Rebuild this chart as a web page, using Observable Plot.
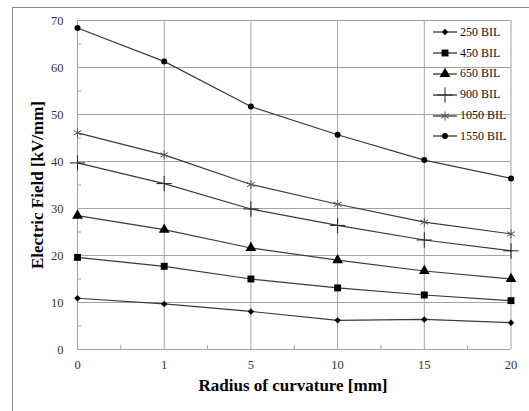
<!DOCTYPE html>
<html>
<head>
<meta charset="utf-8">
<script src="https://cdn.jsdelivr.net/npm/d3@7"></script>
<script src="https://cdn.jsdelivr.net/npm/@observablehq/plot@0.6"></script>
<style>
  html, body { margin: 0; padding: 0; background: #fff; }
  #wrap { position: relative; width: 529px; height: 411px; overflow: hidden; font-family: "Liberation Serif", Tinos, "Times New Roman", "DejaVu Serif", serif; }
  #frame { position: absolute; left: 12px; top: 7px; right: -2px; bottom: -2px; border-left: 1px solid #8c8c8c; border-top: 1px solid #8c8c8c; }
  #chart { position: absolute; left: 0; top: 0; }
  #chart svg text { font-family: "Liberation Serif", Tinos, "Times New Roman", "DejaVu Serif", serif; }
  #legend { position: absolute; left: 432px; top: 22px; }
  .row { display: flex; align-items: center; height: 20.8px; font-size: 12px; color: #111; }
  .row svg { display: block; margin-right: 2px; }
  .ylab { position: absolute; left: 38px; top: 185px; transform: translate(-50%, -50%) rotate(-90deg); white-space: nowrap; font-weight: bold; font-size: 17px; color: #000; }
  .xlab { position: absolute; left: 293px; top: 386px; transform: translate(-50%, -50%); white-space: nowrap; font-weight: bold; font-size: 17px; color: #000; }
</style>
</head>
<body>
<div id="wrap">
  <div id="frame"></div>
  <div id="chart"></div>
  <div id="legend"></div>
  <div class="ylab">Electric Field [kV/mm]</div>
  <div class="xlab">Radius of curvature [mm]</div>
</div>
<script>
// Categories (radius of curvature, mm) — plotted evenly spaced
const xLabels = ["0", "1", "5", "10", "15", "20"];
// Series values (kV/mm)
const s250  = [10.9, 9.7, 8.1, 6.2, 6.4, 5.7];
const s450  = [19.6, 17.7, 15.0, 13.1, 11.6, 10.4];
const s650  = [28.5, 25.5, 21.6, 19.0, 16.7, 15.0];
const s900  = [39.7, 35.3, 29.9, 26.4, 23.3, 21.0];
const s1050 = [46.1, 41.4, 35.1, 30.9, 27.1, 24.6];
const s1550 = [68.4, 61.3, 51.7, 45.7, 40.3, 36.4];
const seriesNames = ["250 BIL", "450 BIL", "650 BIL", "900 BIL", "1050 BIL", "1550 BIL"];
const seriesValues = [s250, s450, s650, s900, s1050, s1550];
// Y tick labels
const yTicks = [0, 10, 20, 30, 40, 50, 60, 70];

const styles = [
  { symbol: "diamond2", fill: "#000", stroke: "none", r: 2.9, sw: 0 },
  { symbol: "square", fill: "#000", stroke: "none", r: 3.9, sw: 0 },
  { symbol: "triangle", fill: "#000", stroke: "none", r: 4.0, sw: 0 },
  { symbol: "plus", fill: "none", stroke: "#222", r: 5.0, sw: 1 },
  { symbol: "asterisk", fill: "none", stroke: "#555", r: 4.2, sw: 1 },
  { symbol: "circle", fill: "#000", stroke: "none", r: 3.0, sw: 0 }
];

const idx = xLabels.map((d, i) => i);
const data = [];
seriesNames.forEach((name, s) => {
  seriesValues[s].forEach((v, i) => data.push({ series: name, s, i, v }));
});

const grid = "#a3a3a3";
const yMinor = yTicks.slice(0, -1).map(d => d + 5);
const xMinor = idx.slice(0, -1).map(d => d + 0.5);

const dotMarks = styles.map((st, s) =>
  Plot.dot(data.filter(d => d.s === s), {
    x: "i", y: "v", symbol: () => st.symbol, r: st.r,
    fill: st.fill, stroke: st.stroke, strokeWidth: st.sw
  })
);

const chart = Plot.plot({
  width: 529,
  height: 411,
  marginLeft: 77,
  marginRight: 18.5,
  marginTop: 20,
  marginBottom: 62,
  style: { fontFamily: "'Liberation Serif', Tinos, 'Times New Roman', 'DejaVu Serif', serif", fontSize: "12.5px", color: "#333", background: "transparent" },
  x: { type: "linear", domain: [0, xLabels.length - 1] },
  y: { domain: [0, 70] },
  symbol: { type: "identity" },
  marks: [
    Plot.ruleY(yTicks, { stroke: grid, strokeWidth: 1 }),
    Plot.ruleX(idx, { stroke: grid, strokeWidth: 1 }),
    Plot.axisY({ ticks: yTicks, tickSize: 0, tickPadding: 14, label: null, fill: "#333" }),
    Plot.axisY({ ticks: yMinor, tickSize: -4, tickFormat: () => "", label: null, stroke: grid }),
    Plot.axisX({ ticks: idx, tickSize: 0, tickPadding: 11, tickFormat: i => xLabels[i], label: null, fill: "#333" }),
    Plot.axisX({ ticks: xMinor, tickSize: -4, tickFormat: () => "", label: null, stroke: grid }),
    Plot.line(data, { x: "i", y: "v", z: "series", stroke: "#3a3a3a", strokeWidth: 1.2 }),
    ...dotMarks
  ]
});
document.getElementById("chart").appendChild(chart);

// Legend
const legend = d3.select("#legend");
const typeMap = { diamond2: d3.symbolDiamond2, square: d3.symbolSquare, triangle: d3.symbolTriangle,
  plus: d3.symbolPlus, asterisk: d3.symbolAsterisk, circle: d3.symbolCircle };
seriesNames.forEach((name, s) => {
  const st = styles[s];
  const row = legend.append("div").attr("class", "row");
  const svg = row.append("svg").attr("width", 26).attr("height", 16);
  svg.append("line").attr("x1", 1).attr("x2", 25).attr("y1", 8).attr("y2", 8)
    .attr("stroke", "#222").attr("stroke-width", 1.2);
  svg.append("path")
    .attr("transform", "translate(13,8)")
    .attr("d", d3.symbol(typeMap[st.symbol], Math.PI * st.r * st.r)())
    .attr("fill", st.fill).attr("stroke", st.stroke).attr("stroke-width", st.sw);
  row.append("span").text(name);
});
</script>
</body>
</html>
